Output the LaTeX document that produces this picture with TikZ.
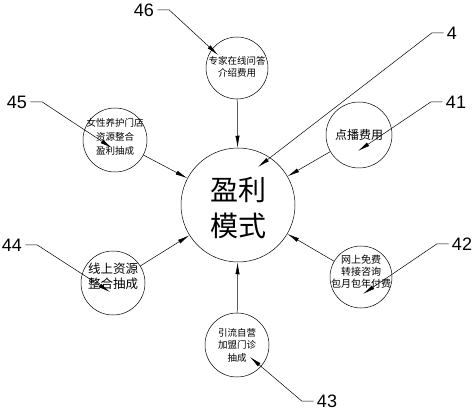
\documentclass[tikz,border=0pt]{standalone}
\usepackage{fontspec}
\setmainfont{Liberation Sans}
\newfontfamily\cjk{Noto Sans CJK SC}
\usetikzlibrary{arrows.meta}
\tikzset{>={Latex[length=12pt,width=4.2pt]},
  bubble/.style={draw,circle,inner sep=0pt},
  words/.style args={#1/#2}{align=center,inner sep=0pt,font=\cjk\fontsize{#1}{#2}\selectfont},
  num/.style={inner sep=0pt,font=\fontsize{18}{18}\selectfont},
  lead/.style={->,line width=0.5pt}}
\begin{document}
\begin{tikzpicture}[x=1pt,y=1pt,line width=0.5pt]
\useasboundingbox (0,0) rectangle (474,410);
% circles
\node [bubble,minimum size=114pt,label={[words=28/36,yshift=-3pt]center:盈利\\模式}] (main) at (238,205) {};
\node [bubble,minimum size=62pt,label={[words=9.5/12.5,yshift=1pt]center:专家在线问答\\介绍费用}] (c46) at (237,342) {};
\node [bubble,minimum size=64pt,label={[words=9.5/14,yshift=3pt]center:女性养护门店\\资源整合\\盈利抽成}] (c45) at (115,270) {};
\node [bubble,minimum size=66pt,label={[words=12/14]center:点播费用}] (c41) at (359,275) {};
\node [bubble,minimum size=64pt,label={[words=12.5/15,yshift=7pt]center:线上资源\\整合抽成}] (c44) at (113,127) {};
\node [bubble,minimum size=62pt,label={[words=10/12,yshift=5pt]center:网上免费\\转接咨询\\包月包年付费}] (c42) at (361,133) {};
\node [bubble,minimum size=64pt,label={[words=9.5/12.5]center:引流自营\\加盟门诊\\抽成}] (c43) at (237,65) {};
% arrows to main
\draw [->] (c46) -- (main);
\draw [->] (c45) -- (main);
\draw [->] (c41) -- (main);
\draw [->] (c44) -- (main);
\draw [->] (c42) -- (main);
\draw [->] (c43) -- (main);
% reference numbers
\node [num] (l4) at (452,377) {4};
\node [num] (l46) at (144,400) {46};
\node [num] (l45) at (17,308) {45};
\node [num] (l41) at (456,308) {41};
\node [num] (l44) at (12,165) {44};
\node [num] (l42) at (462,166) {42};
\node [num] (l43) at (327,9) {43};
\coordinate (t4) at (258,243);
\coordinate (t46) at (218,355);
\coordinate (t45) at (112,262);
\coordinate (t41) at (358,259);
\coordinate (t44) at (110,118);
\coordinate (t42) at (363,116);
\coordinate (t43) at (250,53);
\draw [lead] ([xshift=-3pt]l4.west) -- ++(-12,0) -- (t4);
\draw [lead] ([xshift=3pt]l46.east) -- ++(12,0) -- (t46);
\draw [lead] ([xshift=3pt]l45.east) -- ++(12,0) -- (t45);
\draw [lead] ([xshift=-3pt]l41.west) -- ++(-12,0) -- (t41);
\draw [lead] ([xshift=3pt]l44.east) -- ++(12,0) -- (t44);
\draw [lead] ([xshift=-3pt]l42.west) -- ++(-12,0) -- (t42);
\draw [lead] ([xshift=-3pt]l43.west) -- ++(-12,0) -- (t43);
\end{tikzpicture}
\end{document}
